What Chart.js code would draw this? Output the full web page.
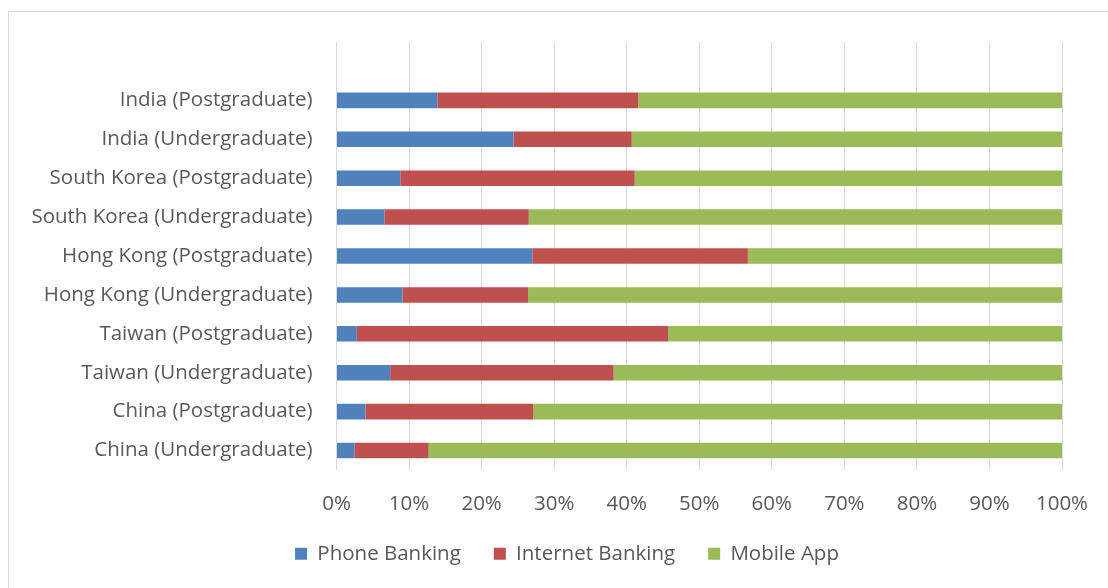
<!DOCTYPE html>
<html>
<head>
<meta charset="utf-8">
<title>Banking channel preference by country and degree level</title>
<script src="https://cdn.jsdelivr.net/npm/chart.js@4/dist/chart.umd.min.js"></script>
<style>
  html, body { margin: 0; padding: 0; background: #fff; }
  #wrap { position: relative; width: 1108px; height: 588px; overflow: hidden; }
  #frame {
    position: absolute; left: 8px; top: 11px;
    width: 1120px; height: 600px;
    border: 1px solid #d9d9d9; box-sizing: border-box;
  }
  #chart { position: absolute; left: 0; top: 0; }
</style>
</head>
<body>
<div id="wrap">
  <div id="frame"></div>
  <canvas id="chart" width="1108" height="588"></canvas>
</div>
<script>
// Groups, top to bottom
const categories = [
  "India (Postgraduate)",
  "India (Undergraduate)",
  "South Korea (Postgraduate)",
  "South Korea (Undergraduate)",
  "Hong Kong (Postgraduate)",
  "Hong Kong (Undergraduate)",
  "Taiwan (Postgraduate)",
  "Taiwan (Undergraduate)",
  "China (Postgraduate)",
  "China (Undergraduate)",
];

// Share of respondents per channel (%)
const phoneBanking    = [13.9, 24.4,  8.8,  6.6, 27.0,  9.1,  2.8,  7.4,  4.0,  2.5];
const internetBanking = [27.7, 16.3, 32.3, 19.9, 29.7, 17.3, 42.9, 30.8, 23.1, 10.2];
const mobileApp       = [58.4, 59.3, 58.9, 73.5, 43.3, 73.6, 54.3, 61.8, 72.9, 87.3];

const xTicks = [0, 10, 20, 30, 40, 50, 60, 70, 80, 90, 100];

const TEXT = "#595959";
const GRID = "#d9d9d9";
const FONT = { family: "'Open Sans', sans-serif", size: 20.5 };

// an empty slot above the first group leaves the blank band at the top of the plot
const rowLabels = ["", ...categories];
const pad = (arr) => [null, ...arr];

function series(label, values, color) {
  return {
    label,
    data: pad(values),
    backgroundColor: color,
    borderWidth: 0,
    barPercentage: 0.4,
    categoryPercentage: 1.0,
  };
}

// legend sits a little right of the canvas centre, under the plot
const legendShift = {
  id: "legendShift",
  afterLayout(chart) {
    chart.legend.left += 36;
    chart.legend.right += 36;
  },
};

new Chart(document.getElementById("chart"), {
  type: "bar",
  data: {
    labels: rowLabels,
    datasets: [
      series("Phone Banking", phoneBanking, "#4F81BD"),
      series("Internet Banking", internetBanking, "#C0504D"),
      series("Mobile App", mobileApp, "#9BBB59"),
    ],
  },
  options: {
    indexAxis: "y",
    responsive: false,
    animation: false,
    layout: { padding: { top: 42, right: 46, bottom: 14, left: 0 } },
    plugins: {
      legend: {
        position: "bottom",
        labels: { color: TEXT, font: FONT, boxWidth: 12, boxHeight: 12, padding: 33 },
      },
      tooltip: { enabled: false },
    },
    scales: {
      x: {
        stacked: true,
        min: 0,
        max: 100,
        afterBuildTicks: (axis) => { axis.ticks = xTicks.map((v) => ({ value: v })); },
        ticks: { color: TEXT, font: FONT, padding: 22, callback: (v) => v + "%" },
        grid: { color: GRID, lineWidth: 1, drawTicks: false },
        border: { display: false },
        afterFit: (axis) => {
          axis.height = 40.5;
          axis.paddingLeft = 0;
          axis.paddingRight = 0;
        },
      },
      y: {
        stacked: true,
        ticks: { color: TEXT, font: FONT, padding: 24 },
        grid: { display: false, drawTicks: false },
        border: { display: false },
        afterFit: (axis) => { axis.width = 336.5; },
      },
    },
  },
  plugins: [legendShift],
});
</script>
</body>
</html>
